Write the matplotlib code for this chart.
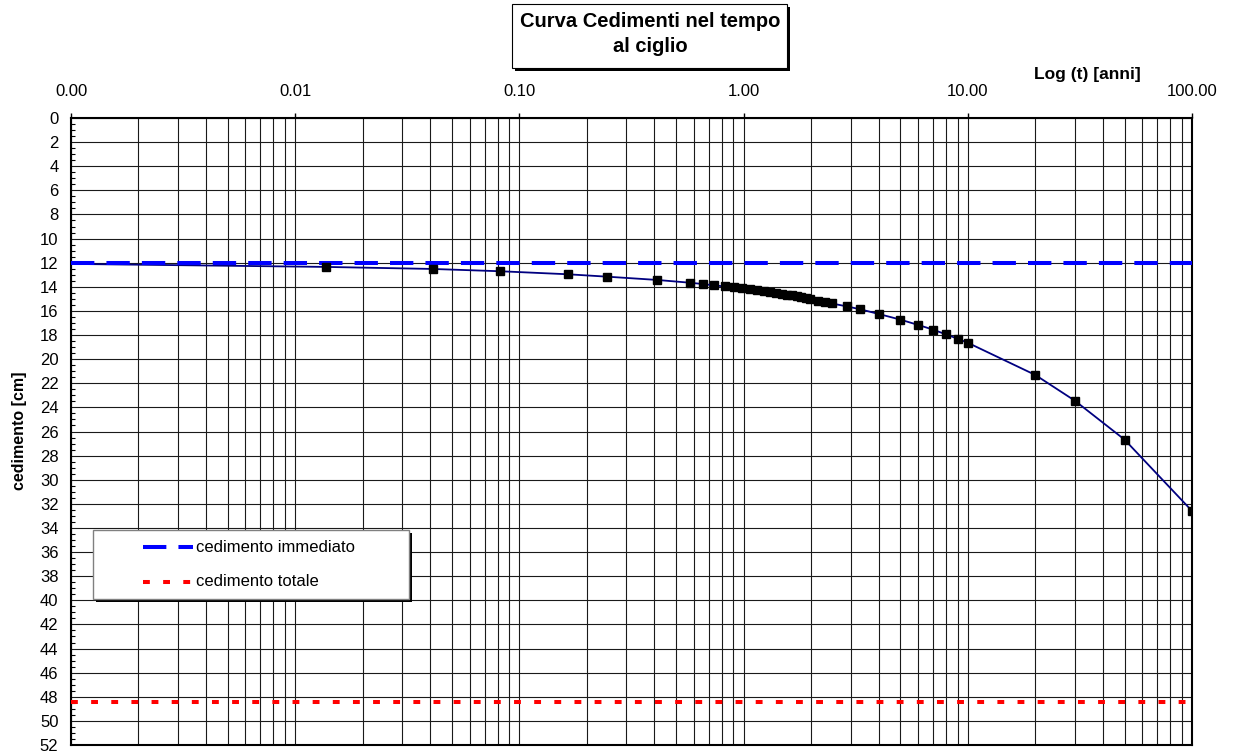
import numpy as np
import matplotlib
matplotlib.use("Agg")
import matplotlib.pyplot as plt
import matplotlib.ticker as ticker
from matplotlib.patches import Rectangle
from matplotlib.lines import Line2D

plt.rcParams["font.family"] = ["Liberation Sans", "DejaVu Sans"]

# tempi (primo tratto in giorni, poi in anni) e cedimenti
giorni = [5, 15, 30, 60, 90, 150, 210, 240, 270, 300, 330, 360, 390, 420, 450,
          480, 510, 540, 570, 600, 630, 660, 690, 720]
anni = [2.14, 2.30, 2.47, 2.88, 3.29, 4, 5, 6, 7, 8, 9, 10, 20, 30, 50, 100]
cedimento = [12.35, 12.52, 12.71, 12.96, 13.16, 13.43, 13.66, 13.77, 13.88, 13.97,
             14.04, 14.13, 14.22, 14.30, 14.37, 14.44, 14.51, 14.58, 14.65, 14.72,
             14.78, 14.85, 14.91, 14.98,
             15.15, 15.27, 15.38, 15.62, 15.85, 16.25, 16.72, 17.16, 17.55, 17.95,
             18.30, 18.64, 21.31, 23.44, 26.67, 32.59]
t_inizio, ced_inizio = 0.001, 12.1
ced_immediato = 12.0
ced_totale = 48.4

t = np.concatenate([np.array(giorni) / 365.0, anni])
t_linea = np.concatenate([[t_inizio], t])
ced_linea = np.concatenate([[ced_inizio], cedimento])

W, H = 1235, 755
fig = plt.figure(figsize=(W / 100, H / 100), dpi=100)
fx = lambda px: px / W
fy = lambda py: 1 - py / H

ax = fig.add_axes([fx(71), fy(745), fx(1192) - fx(71), fy(118) - fy(745)])
ax.set_xscale("log")
ax.set_xlim(0.001, 100)
ax.set_ylim(52, 0)

blue_ls = (0, (5.8, 3.0))
red_ls = (0, (1.7, 3.3))
ax.plot(t_linea, ced_linea, color="#000080", lw=1.3, zorder=3)
ax.plot(t, cedimento, ls="none", marker="s", ms=5.2, color="black", zorder=5)
ax.axhline(ced_immediato, color="#0000ff", lw=2.9, ls=blue_ls, zorder=4)
ax.axhline(ced_totale, color="#ff0000", lw=2.9, ls=red_ls, zorder=4)

# assi
ax.xaxis.tick_top()
ax.xaxis.set_major_locator(ticker.LogLocator(base=10, numticks=10))
ax.xaxis.set_minor_locator(ticker.LogLocator(base=10, subs=np.arange(2, 10), numticks=50))
ax.xaxis.set_major_formatter(ticker.FuncFormatter(lambda v, p: f"{v:.2f}"))
ax.xaxis.set_minor_formatter(ticker.NullFormatter())
ax.tick_params(axis="x", which="major", direction="out", length=3.6, width=1, pad=10, labelsize=12)
ax.tick_params(axis="x", which="minor", length=0)
ax.yaxis.set_major_locator(ticker.MultipleLocator(2))
ax.yaxis.set_minor_locator(ticker.MultipleLocator(0.5))
ax.tick_params(axis="y", which="major", length=0, pad=9, labelsize=12)
ax.tick_params(axis="y", which="minor", direction="in", length=3, width=0.8)
ax.grid(True, which="both", axis="x", color="#1a1a1a", lw=0.8)
ax.grid(True, which="major", axis="y", color="#1a1a1a", lw=0.8)
for s in ax.spines.values():
    s.set_linewidth(1.5)
    s.set_color("black")

fig.text(fx(1087), fy(75), "Log (t) [anni]", ha="center", va="center", fontsize=12.5, fontweight="bold")
fig.text(fx(20), fy(431), "cedimento [cm]", ha="center", va="center", rotation=90,
         fontsize=11.5, fontweight="bold")

# titolo in riquadro con ombra
def box(x0, y0, x1, y1, edge, lw):
    fig.patches.append(Rectangle((fx(x0 + 3), fy(y1 + 3)), fx(x1 - x0), fy(y0) - fy(y1),
                                 transform=fig.transFigure, facecolor="black", edgecolor="none", zorder=10))
    fig.patches.append(Rectangle((fx(x0), fy(y1)), fx(x1 - x0), fy(y0) - fy(y1),
                                 transform=fig.transFigure, facecolor="white", edgecolor=edge, lw=lw, zorder=11))

box(512, 4, 787, 68, "black", 0.8)
fig.text(fx(650), fy(34), "Curva Cedimenti nel tempo\nal ciglio", ha="center", va="center",
         fontsize=14.5, fontweight="bold", linespacing=1.35, zorder=12)

# legenda
box(93, 530, 409, 599, "#808080", 1.0)
for py, col, ls, lab in [(547, "#0000ff", blue_ls, "cedimento immediato"),
                         (582, "#ff0000", red_ls, "cedimento totale")]:
    fig.lines.append(Line2D([fx(143), fx(193)], [fy(py), fy(py)], transform=fig.transFigure,
                            color=col, lw=2.9, ls=ls, zorder=12))
    fig.text(fx(196), fy(py), lab, ha="left", va="center", fontsize=12, zorder=12)

fig.savefig("out.png", dpi=100)
